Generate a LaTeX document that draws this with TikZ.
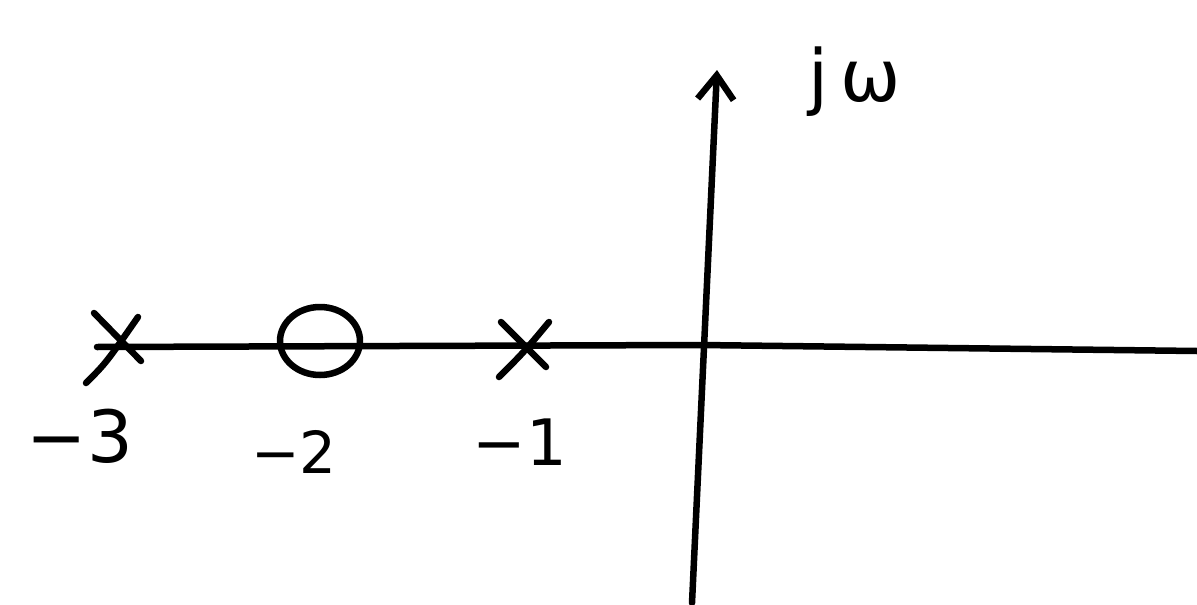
\documentclass[tikz,border=0pt]{standalone}
\usepackage{fontspec}
\setmainfont{DejaVu Sans}
\usetikzlibrary{arrows.meta,shapes.geometric}
\begin{document}
\begin{tikzpicture}[x=1pt,y=-1pt,
  ink/.style={line width=6.5pt,line cap=round,line join=round,black},
  lbl/.style={inner sep=0pt,font=\fontsize{72}{80}\selectfont}]
\useasboundingbox (0,0) rectangle (1197,605);
% axes
\coordinate (ra) at (97,347);
\coordinate (rm) at (700,345);
\coordinate (rb) at (1197,351);
\coordinate (ib) at (692,603);
\coordinate (it) at (717,70);
\draw[ink] (ra) -- (rm) -- (rb);
\draw[ink,-{Straight Barb[length=24pt,width=36pt,line width=6.5pt]}] (ib) -- (it);
% poles and zero
\coordinate (p3) at (122,343);
\coordinate (z2) at (320,341);
\coordinate (p1) at (523,347);
\draw[ink] (p3) ++(-36,40) .. controls +(20,-20) .. ++(52,-66);
\draw[ink] (p3) ++(-28,-30) -- ++(47,48);
\node[ink,draw,ellipse,minimum width=80pt,minimum height=68pt,inner sep=0pt] (zero) at (z2) {};
\draw[ink] (p1) ++(-24,30) .. controls +(25,-25) .. ++(50,-55);
\draw[ink] (p1) ++(-22,-25) -- ++(45,45);
% labels
\node[lbl] (l3) at (80,436) {−3};
\node[lbl,font=\fontsize{58}{66}\selectfont] (l2) at (294,452) {−2};
\node[lbl,font=\fontsize{64}{72}\selectfont] (l1) at (520,442) {−1};
\node[lbl] (jw) at (855,82) {j\,ω};
\end{tikzpicture}
\end{document}
